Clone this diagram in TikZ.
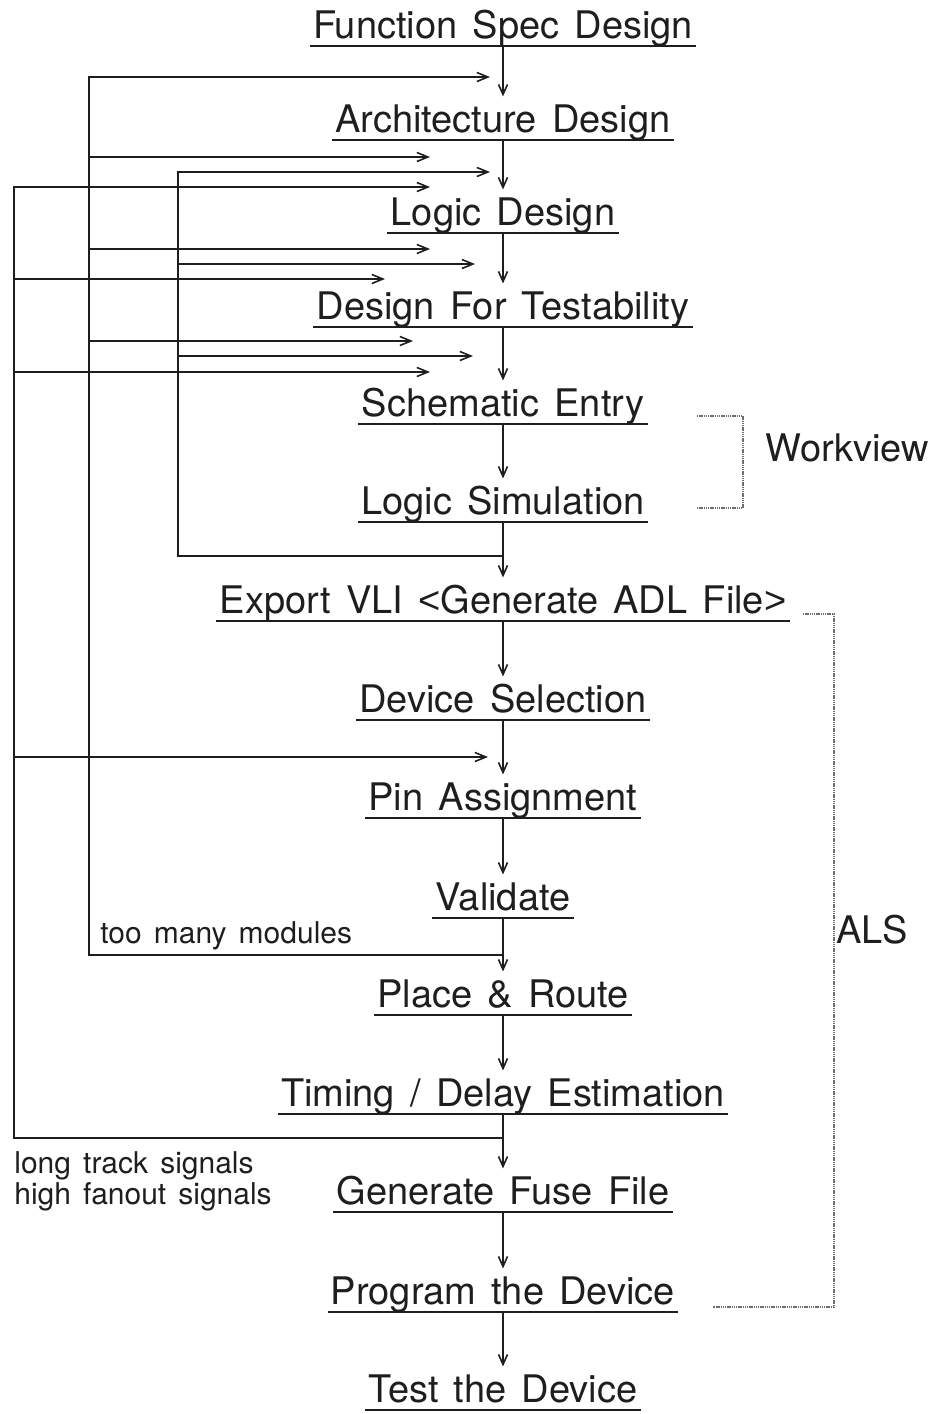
\documentclass[tikz,border=0pt]{standalone}
\usepackage{fontspec}
\setmainfont[WordSpace=1.45]{TeX Gyre Heros}
\newfontfamily\anglefont{Liberation Sans}
\usepackage{tikz}
\usetikzlibrary{arrows.meta,positioning,calc}
\definecolor{ink}{HTML}{1E1E1E}
\definecolor{toolgray}{HTML}{6E6E6E}
\newcommand{\stagefont}{\fontsize{19}{23}\selectfont}
\newcommand{\notefont}{\fontsize{15}{15.5}\selectfont}

\begin{document}
\begin{tikzpicture}[
  x=0.5pt,y=-0.5pt,
  stage/.style={anchor=base,font=\stagefont,text=ink,inner xsep=1.5pt,inner ysep=0pt,text height=17.6pt,text depth=4pt,
    append after command={(\tikzlastnode.south west) edge[draw=ink,line width=1pt] (\tikzlastnode.south east)}},
  note/.style={font=\notefont,text=ink,inner sep=0pt,align=left},
  tag/.style={font=\stagefont,text=ink,inner sep=0pt,anchor=base west},
  flow/.style={-{Straight Barb[length=5pt,width=4.5pt]},draw=ink,line width=0.8pt},
  loop/.style={-{Straight Barb[length=5.5pt,width=4.5pt]},draw=ink,line width=0.8pt},
  tool/.style={draw=toolgray,line width=1.3pt,dash pattern=on 0.7pt off 0.4pt}
]
\useasboundingbox (0,0) rectangle (934,1414);
\node[stage] (fsd) at (503,38) {Function Spec Design};
\node[stage] (arch) at (503,132) {Architecture Design};
\node[stage] (logic) at (503,225) {Logic Design};
\node[stage] (dft) at (503,319) {Design For Testability};
\node[stage] (sch) at (503,416) {Schematic Entry};
\node[stage] (lsim) at (503,514) {Logic Simulation};
\node[stage] (vli) at (503,613) {Export VLI {\anglefont<}Generate ADL File{\anglefont>}};
\node[stage] (dev) at (503,712) {Device Selection};
\node[stage] (pin) at (503,810) {Pin Assignment};
\node[stage] (val) at (503,910) {Validate};
\node[stage] (pr) at (503,1007) {Place \& Route};
\node[stage] (tim) at (503,1106) {Timing / Delay Estimation};
\node[stage] (gff) at (503,1204) {Generate Fuse File};
\node[stage] (prog) at (503,1304) {Program the Device};
\node[stage] (test) at (503,1402) {Test the Device};
\node[tag] (workview) at (765,461) {Workview};
\node[tag] (als) at (836,943) {ALS};
\node[note,anchor=base west] (toomany) at (100,943) {too many modules};
\node[note,anchor=north west] (signals) at (14,1151) {long track signals\\high fanout signals};
\draw[flow] (fsd) -- (arch);
\draw[flow] (arch) -- (logic);
\draw[flow] (logic) -- (dft);
\draw[flow] (dft) -- (sch);
\draw[flow] (sch) -- (lsim);
\draw[flow] (lsim) -- (vli);
\draw[flow] (vli) -- (dev);
\draw[flow] (dev) -- (pin);
\draw[flow] (pin) -- (val);
\draw[flow] (val) -- (pr);
\draw[flow] (pr) -- (tim);
\draw[flow] (tim) -- (gff);
\draw[flow] (gff) -- (prog);
\draw[flow] (prog) -- (test);
\coordinate (outer) at (14,0);
\coordinate (mid) at (89,0);
\coordinate (inner) at (178,0);
\coordinate (simjoin) at (lsim |- 0,556);
\coordinate (valjoin) at (val |- 0,955);
\coordinate (timjoin) at (tim |- 0,1138);
\coordinate (m1) at (490,77);
\coordinate (m2) at (430,157);
\coordinate (m3) at (430,249);
\coordinate (m4) at (413,341);
\coordinate (i1) at (490,172);
\coordinate (i2) at (475,264);
\coordinate (i3) at (473,356);
\coordinate (o1) at (430,187);
\coordinate (o2) at (385,279);
\coordinate (o3) at (430,372);
\coordinate (o4) at (488,757);
\draw[loop] (valjoin) -| (mid |- m1) -- (m1);
\draw[loop] (mid |- m2) -- (m2);
\draw[loop] (mid |- m3) -- (m3);
\draw[loop] (mid |- m4) -- (m4);
\draw[loop] (simjoin) -| (inner |- i1) -- (i1);
\draw[loop] (inner |- i2) -- (i2);
\draw[loop] (inner |- i3) -- (i3);
\draw[loop] (timjoin) -| (outer |- o1) -- (o1);
\draw[loop] (outer |- o2) -- (o2);
\draw[loop] (outer |- o3) -- (o3);
\draw[loop] (outer |- o4) -- (o4);
\draw[tool] (697,416) -- (743,416) -- (743,508) -- (697,508);
\draw[tool] (803,614) -- (834,614) -- (834,1307) -- (713,1307);
\end{tikzpicture}
\end{document}
